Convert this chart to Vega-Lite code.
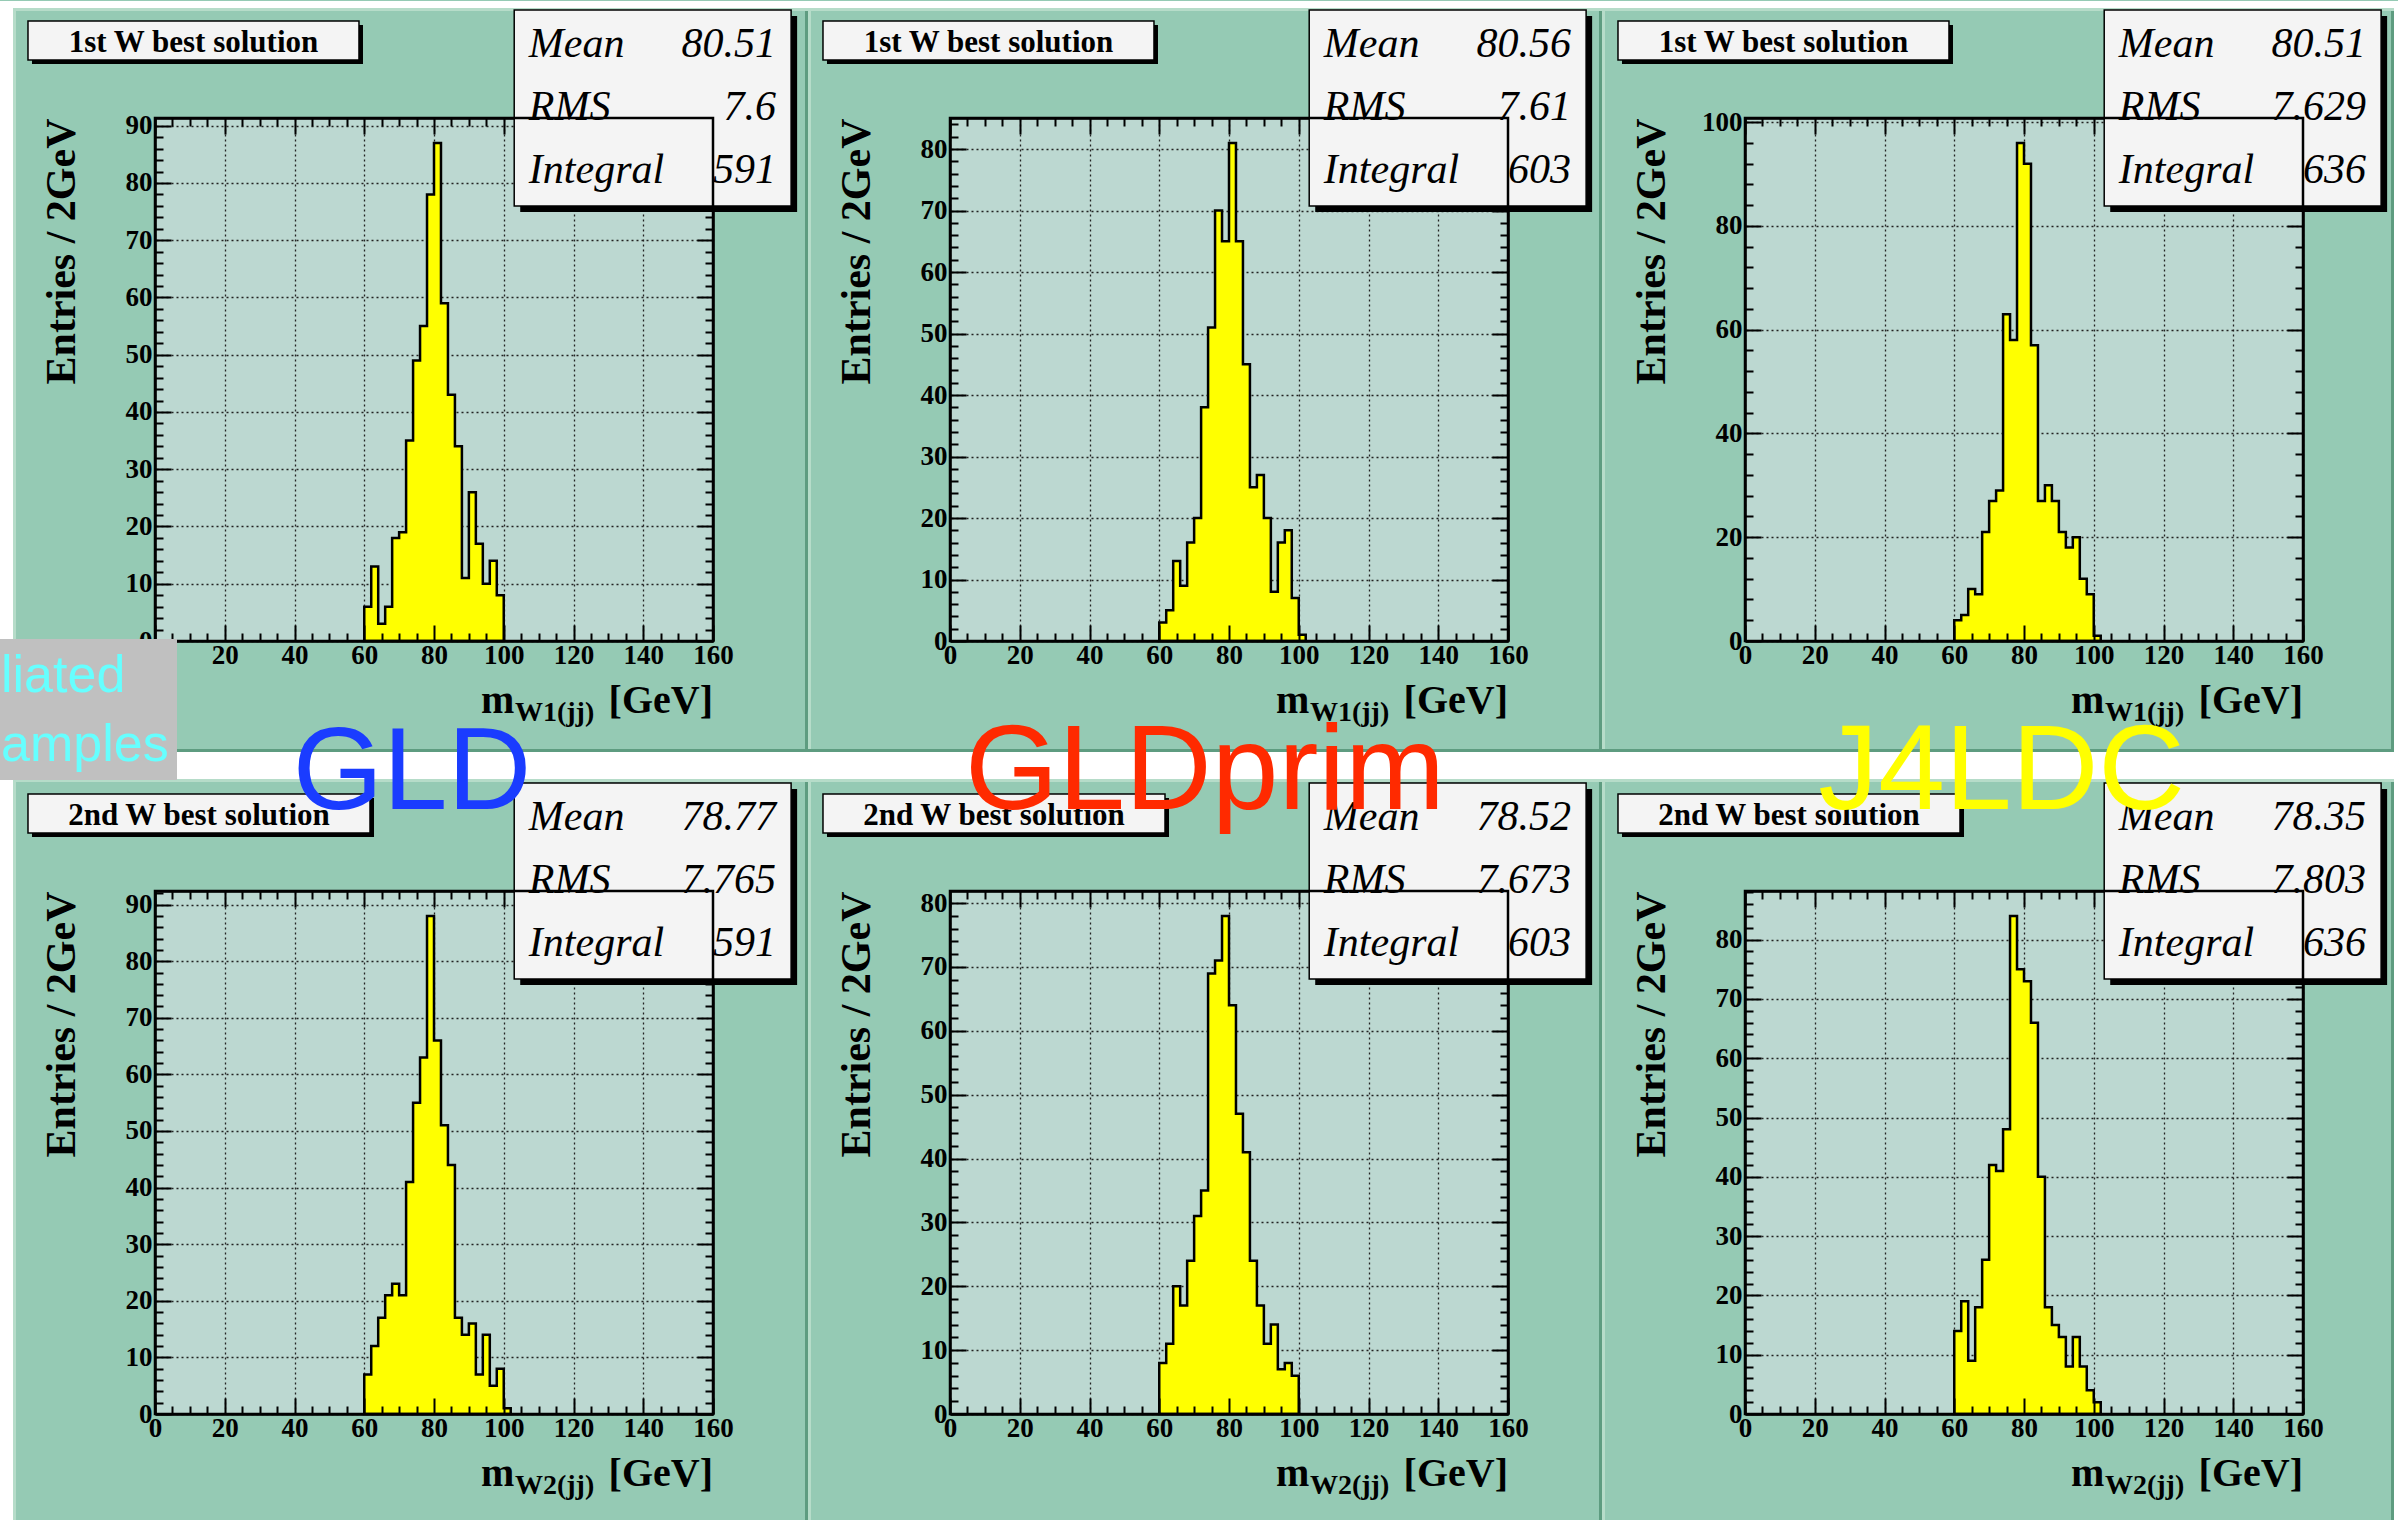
{
"$schema": "https://vega.github.io/schema/vega-lite/v6.json",
"background": "#95cab4",
"padding": 0,
"autosize": {"type": "pad"},
"columns": 3,
"spacing": {"row": 250, "column": 237},
"bounds": "flush",
"datasets": {
"one": [{}],
"p1": [{"lo":60,"n":6},{"lo":62,"n":13},{"lo":64,"n":3},{"lo":66,"n":6},{"lo":68,"n":18},{"lo":70,"n":19},{"lo":72,"n":35},{"lo":74,"n":49},{"lo":76,"n":55},{"lo":78,"n":78},{"lo":80,"n":87},{"lo":82,"n":59},{"lo":84,"n":43},{"lo":86,"n":34},{"lo":88,"n":11},{"lo":90,"n":26},{"lo":92,"n":17},{"lo":94,"n":10},{"lo":96,"n":14},{"lo":98,"n":8},{"lo":100,"n":0}],
"p2": [{"lo":60,"n":3},{"lo":62,"n":5},{"lo":64,"n":13},{"lo":66,"n":9},{"lo":68,"n":16},{"lo":70,"n":20},{"lo":72,"n":38},{"lo":74,"n":51},{"lo":76,"n":70},{"lo":78,"n":65},{"lo":80,"n":81},{"lo":82,"n":65},{"lo":84,"n":45},{"lo":86,"n":25},{"lo":88,"n":27},{"lo":90,"n":20},{"lo":92,"n":8},{"lo":94,"n":16},{"lo":96,"n":18},{"lo":98,"n":7},{"lo":100,"n":1},{"lo":102,"n":0}],
"p3": [{"lo":60,"n":4},{"lo":62,"n":5},{"lo":64,"n":10},{"lo":66,"n":9},{"lo":68,"n":21},{"lo":70,"n":27},{"lo":72,"n":29},{"lo":74,"n":63},{"lo":76,"n":58},{"lo":78,"n":96},{"lo":80,"n":92},{"lo":82,"n":57},{"lo":84,"n":27},{"lo":86,"n":30},{"lo":88,"n":27},{"lo":90,"n":21},{"lo":92,"n":18},{"lo":94,"n":20},{"lo":96,"n":12},{"lo":98,"n":9},{"lo":100,"n":1},{"lo":102,"n":0}],
"p4": [{"lo":60,"n":7},{"lo":62,"n":12},{"lo":64,"n":17},{"lo":66,"n":21},{"lo":68,"n":23},{"lo":70,"n":21},{"lo":72,"n":41},{"lo":74,"n":55},{"lo":76,"n":63},{"lo":78,"n":88},{"lo":80,"n":66},{"lo":82,"n":51},{"lo":84,"n":44},{"lo":86,"n":17},{"lo":88,"n":14},{"lo":90,"n":16},{"lo":92,"n":7},{"lo":94,"n":14},{"lo":96,"n":5},{"lo":98,"n":8},{"lo":100,"n":1},{"lo":102,"n":0}],
"p5": [{"lo":60,"n":8},{"lo":62,"n":11},{"lo":64,"n":20},{"lo":66,"n":17},{"lo":68,"n":24},{"lo":70,"n":31},{"lo":72,"n":35},{"lo":74,"n":69},{"lo":76,"n":71},{"lo":78,"n":78},{"lo":80,"n":64},{"lo":82,"n":47},{"lo":84,"n":41},{"lo":86,"n":24},{"lo":88,"n":17},{"lo":90,"n":11},{"lo":92,"n":14},{"lo":94,"n":7},{"lo":96,"n":8},{"lo":98,"n":6},{"lo":100,"n":0}],
"p6": [{"lo":60,"n":14},{"lo":62,"n":19},{"lo":64,"n":9},{"lo":66,"n":18},{"lo":68,"n":26},{"lo":70,"n":42},{"lo":72,"n":41},{"lo":74,"n":48},{"lo":76,"n":84},{"lo":78,"n":75},{"lo":80,"n":73},{"lo":82,"n":66},{"lo":84,"n":40},{"lo":86,"n":18},{"lo":88,"n":15},{"lo":90,"n":13},{"lo":92,"n":8},{"lo":94,"n":13},{"lo":96,"n":8},{"lo":98,"n":4},{"lo":100,"n":2},{"lo":102,"n":0}]
},
"concat": [
{
"width": 558, "height": 523,
"resolve": {"axis": {"x": "independent", "y": "independent"}},
"layer": [
{"data":{"name":"one"},"mark":{"type":"rect","fill":"#5e9c80"},"encoding":{"x":{"datum":186.380,"type":"quantitative","axis":null},"x2":{"datum":187.240},"y":{"datum":110.563,"type":"quantitative","axis":null},"y2":{"datum":-153.705}}},
{"data":{"name":"one"},"mark":{"type":"rect","fill":"#5e9c80"},"encoding":{"x":{"datum":414.050,"type":"quantitative","axis":null},"x2":{"datum":414.910},"y":{"datum":110.563,"type":"quantitative","axis":null},"y2":{"datum":-153.705}}},
{"data":{"name":"one"},"mark":{"type":"rect","fill":"#5e9c80"},"encoding":{"x":{"datum":641.147,"type":"quantitative","axis":null},"x2":{"datum":642.007},"y":{"datum":110.563,"type":"quantitative","axis":null},"y2":{"datum":-153.705}}},
{"data":{"name":"one"},"mark":{"type":"rect","fill":"#b6dcc9"},"encoding":{"x":{"datum":-40.717,"type":"quantitative","axis":null},"x2":{"datum":-39.857},"y":{"datum":110.563,"type":"quantitative","axis":null},"y2":{"datum":-153.705}}},
{"data":{"name":"one"},"mark":{"type":"rect","fill":"#b6dcc9"},"encoding":{"x":{"datum":187.240,"type":"quantitative","axis":null},"x2":{"datum":188.100},"y":{"datum":110.563,"type":"quantitative","axis":null},"y2":{"datum":-153.705}}},
{"data":{"name":"one"},"mark":{"type":"rect","fill":"#b6dcc9"},"encoding":{"x":{"datum":414.910,"type":"quantitative","axis":null},"x2":{"datum":415.771},"y":{"datum":110.563,"type":"quantitative","axis":null},"y2":{"datum":-153.705}}},
{"data":{"name":"one"},"mark":{"type":"rect","fill":"#b6dcc9"},"encoding":{"x":{"datum":-40.717,"type":"quantitative","axis":null},"x2":{"datum":642.007},"y":{"datum":110.563,"type":"quantitative","axis":null},"y2":{"datum":110.039}}},
{"data":{"name":"one"},"mark":{"type":"rect","fill":"#b6dcc9"},"encoding":{"x":{"datum":-40.717,"type":"quantitative","axis":null},"x2":{"datum":642.007},"y":{"datum":-24.104,"type":"quantitative","axis":null},"y2":{"datum":-24.628}}},
{"data":{"name":"one"},"mark":{"type":"rect","fill":"#5e9c80"},"encoding":{"x":{"datum":-40.717,"type":"quantitative","axis":null},"x2":{"datum":642.007},"y":{"datum":-18.864,"type":"quantitative","axis":null},"y2":{"datum":-19.388}}},
{"data":{"name":"one"},"mark":{"type":"rect","fill":"#ffffff"},"encoding":{"x":{"datum":-44.444,"type":"quantitative","axis":null},"x2":{"datum":643.154},"y":{"datum":111.786,"type":"quantitative","axis":null},"y2":{"datum":110.563}}},
{"data":{"name":"one"},"mark":{"type":"rect","fill":"#ffffff"},"encoding":{"x":{"datum":-44.444,"type":"quantitative","axis":null},"x2":{"datum":-40.717},"y":{"datum":111.786,"type":"quantitative","axis":null},"y2":{"datum":-153.705}}},
{"data":{"name":"one"},"mark":{"type":"rect","fill":"#ffffff"},"encoding":{"x":{"datum":642.007,"type":"quantitative","axis":null},"x2":{"datum":643.154},"y":{"datum":111.786,"type":"quantitative","axis":null},"y2":{"datum":-153.705}}},
{"data":{"name":"one"},"mark":{"type":"rect","fill":"#ffffff"},"encoding":{"x":{"datum":-44.444,"type":"quantitative","axis":null},"x2":{"datum":643.154},"y":{"datum":-19.388,"type":"quantitative","axis":null},"y2":{"datum":-24.104}}},
{"data":{"name":"p1"},"mark":{"type":"area","interpolate":"step-after","fill":"#ffff00","stroke":"#000000","strokeWidth":2.5},
 "encoding":{"x":{"field":"lo","type":"quantitative","scale":{"domain":[0,160],"nice":false,"zero":false},
  "axis":{"orient":"bottom","values":[0,5,10,15,20,25,30,35,40,45,50,55,60,65,70,75,80,85,90,95,100,105,110,115,120,125,130,135,140,145,150,155,160],"labelExpr":"datum.value % 20 === 0 ? datum.label : ''","tickSize":{"expr":"datum.value % 20 === 0 ? -16 : -8"},"labelPadding":17,"grid":false,"zindex":1,"title":null,"labelFlush":false,"labelOverlap":false}},
 "y":{"field":"n","type":"quantitative","stack":null,"scale":{"domain":[0,91.35],"nice":false,"zero":true},
  "axis":{"orient":"left","values":[0,2,4,6,8,10,12,14,16,18,20,22,24,26,28,30,32,34,36,38,40,42,44,46,48,50,52,54,56,58,60,62,64,66,68,70,72,74,76,78,80,82,84,86,88,90],"labelExpr":"datum.value % 10 === 0 ? datum.label : ''","tickSize":{"expr":"datum.value % 10 === 0 ? -16 : -8"},"labelPadding":19,"grid":false,"zindex":1,"title":"Entries / 2GeV","titleX":-94,"titleY":0,"titleAngle":270,"titleAlign":"right","titleBaseline":"middle","labelFlush":false,"labelOverlap":false}}}},
{"data":{"name":"one"},"mark":{"type":"rect","fill":"#000000"},"encoding":{"x":{"datum":-35.27,"type":"quantitative","axis":null},"x2":{"datum":59.64},"y":{"datum":107.594,"type":"quantitative","axis":null},"y2":{"datum":100.782}}},
{"data":{"name":"one"},"mark":{"type":"rect","fill":"#f4f4f4","stroke":"#000000","strokeWidth":1.5},"encoding":{"x":{"datum":-36.42,"type":"quantitative","axis":null},"x2":{"datum":58.49},"y":{"datum":108.293,"type":"quantitative","axis":null},"y2":{"datum":101.481}}},
{"data":{"name":"one"},"mark":{"type":"text","text":"1st W best solution","font":"Liberation Serif","fontWeight":"bold","fontSize":31,"align":"center","baseline":"alphabetic","fill":"#000000"},"encoding":{"x":{"datum":11.04,"type":"quantitative","axis":null},"y":{"datum":102.878,"type":"quantitative","axis":null}}},
{"data":{"name":"one"},"mark":{"type":"rect","fill":"#000000"},"encoding":{"x":{"datum":104.72,"type":"quantitative","axis":null},"x2":{"datum":184.12},"y":{"datum":109.166,"type":"quantitative","axis":null},"y2":{"datum":74.932}}},
{"data":{"name":"one"},"mark":{"type":"rect","fill":"#f4f4f4","stroke":"#000000","strokeWidth":1.5},"encoding":{"x":{"datum":103.0,"type":"quantitative","axis":null},"x2":{"datum":182.4},"y":{"datum":110.214,"type":"quantitative","axis":null},"y2":{"datum":75.980}}},
{"data":{"name":"one"},"mark":{"type":"text","text":["Mean","RMS","Integral"],"lineHeight":63,"font":"Liberation Serif","fontStyle":"italic","fontSize":42,"align":"left","baseline":"alphabetic","fill":"#000000"},"encoding":{"x":{"datum":107.2,"type":"quantitative","axis":null},"y":{"datum":102.004,"type":"quantitative","axis":null}}},
{"data":{"name":"one"},"mark":{"type":"text","text":["80.51","7.6","591"],"lineHeight":63,"font":"Liberation Serif","fontStyle":"italic","fontSize":42,"align":"right","baseline":"alphabetic","fill":"#000000"},"encoding":{"x":{"datum":178.1,"type":"quantitative","axis":null},"y":{"datum":102.004,"type":"quantitative","axis":null}}},
{"data":{"name":"one"},"mark":{"type":"text","text":"m","font":"Liberation Serif","fontWeight":"bold","fontSize":40,"align":"left","baseline":"alphabetic","fill":"#000000"},"encoding":{"x":{"datum":93.5,"type":"quantitative","axis":null},"y":{"datum":-12.576,"type":"quantitative","axis":null}}},
{"data":{"name":"one"},"mark":{"type":"text","text":"W1(jj)","font":"Liberation Serif","fontWeight":"bold","fontSize":28,"align":"left","baseline":"alphabetic","fill":"#000000"},"encoding":{"x":{"datum":103.2,"type":"quantitative","axis":null},"y":{"datum":-13.973,"type":"quantitative","axis":null}}},
{"data":{"name":"one"},"mark":{"type":"text","text":"[GeV]","font":"Liberation Serif","fontWeight":"bold","fontSize":40,"align":"right","baseline":"alphabetic","fill":"#000000"},"encoding":{"x":{"datum":160,"type":"quantitative","axis":null},"y":{"datum":-12.576,"type":"quantitative","axis":null}}},
{"data":{"name":"one"},"mark":{"type":"rect","filled":false,"stroke":"#000000","strokeWidth":2.5},
 "encoding":{"x":{"datum":0,"type":"quantitative","axis":{"orient":"top","values":[0,5,10,15,20,25,30,35,40,45,50,55,60,65,70,75,80,85,90,95,100,105,110,115,120,125,130,135,140,145,150,155,160],"labels":false,"tickSize":{"expr":"datum.value % 20 === 0 ? -16 : -8"},"grid":true,"gridOpacity":{"expr":"datum.value % 20 === 0 ? 1 : 0"},"zindex":0,"title":null}},"x2":{"datum":160},
 "y":{"datum":0,"type":"quantitative","axis":{"orient":"right","values":[0,2,4,6,8,10,12,14,16,18,20,22,24,26,28,30,32,34,36,38,40,42,44,46,48,50,52,54,56,58,60,62,64,66,68,70,72,74,76,78,80,82,84,86,88,90],"labels":false,"tickSize":{"expr":"datum.value % 10 === 0 ? -16 : -8"},"grid":true,"gridOpacity":{"expr":"datum.value % 10 === 0 ? 1 : 0"},"zindex":0,"title":null}},"y2":{"datum":91.35}}}
]
},
{
"width": 558, "height": 523,
"resolve": {"axis": {"x": "independent", "y": "independent"}},
"layer": [
{"data":{"name":"p2"},"mark":{"type":"area","interpolate":"step-after","fill":"#ffff00","stroke":"#000000","strokeWidth":2.5},
 "encoding":{"x":{"field":"lo","type":"quantitative","scale":{"domain":[0,160],"nice":false,"zero":false},
  "axis":{"orient":"bottom","values":[0,5,10,15,20,25,30,35,40,45,50,55,60,65,70,75,80,85,90,95,100,105,110,115,120,125,130,135,140,145,150,155,160],"labelExpr":"datum.value % 20 === 0 ? datum.label : ''","tickSize":{"expr":"datum.value % 20 === 0 ? -16 : -8"},"labelPadding":17,"grid":false,"zindex":1,"title":null,"labelFlush":false,"labelOverlap":false}},
 "y":{"field":"n","type":"quantitative","stack":null,"scale":{"domain":[0,85.05],"nice":false,"zero":true},
  "axis":{"orient":"left","values":[0,2,4,6,8,10,12,14,16,18,20,22,24,26,28,30,32,34,36,38,40,42,44,46,48,50,52,54,56,58,60,62,64,66,68,70,72,74,76,78,80,82,84],"labelExpr":"datum.value % 10 === 0 ? datum.label : ''","tickSize":{"expr":"datum.value % 10 === 0 ? -16 : -8"},"labelPadding":19,"grid":false,"zindex":1,"title":"Entries / 2GeV","titleX":-94,"titleY":0,"titleAngle":270,"titleAlign":"right","titleBaseline":"middle","labelFlush":false,"labelOverlap":false}}}},
{"data":{"name":"one"},"mark":{"type":"rect","fill":"#000000"},"encoding":{"x":{"datum":-35.27,"type":"quantitative","axis":null},"x2":{"datum":59.64},"y":{"datum":100.173,"type":"quantitative","axis":null},"y2":{"datum":93.831}}},
{"data":{"name":"one"},"mark":{"type":"rect","fill":"#f4f4f4","stroke":"#000000","strokeWidth":1.5},"encoding":{"x":{"datum":-36.42,"type":"quantitative","axis":null},"x2":{"datum":58.49},"y":{"datum":100.824,"type":"quantitative","axis":null},"y2":{"datum":94.482}}},
{"data":{"name":"one"},"mark":{"type":"text","text":"1st W best solution","font":"Liberation Serif","fontWeight":"bold","fontSize":31,"align":"center","baseline":"alphabetic","fill":"#000000"},"encoding":{"x":{"datum":11.04,"type":"quantitative","axis":null},"y":{"datum":95.783,"type":"quantitative","axis":null}}},
{"data":{"name":"one"},"mark":{"type":"rect","fill":"#000000"},"encoding":{"x":{"datum":104.72,"type":"quantitative","axis":null},"x2":{"datum":184.12},"y":{"datum":101.637,"type":"quantitative","axis":null},"y2":{"datum":69.764}}},
{"data":{"name":"one"},"mark":{"type":"rect","fill":"#f4f4f4","stroke":"#000000","strokeWidth":1.5},"encoding":{"x":{"datum":103.0,"type":"quantitative","axis":null},"x2":{"datum":182.4},"y":{"datum":102.613,"type":"quantitative","axis":null},"y2":{"datum":70.740}}},
{"data":{"name":"one"},"mark":{"type":"text","text":["Mean","RMS","Integral"],"lineHeight":63,"font":"Liberation Serif","fontStyle":"italic","fontSize":42,"align":"left","baseline":"alphabetic","fill":"#000000"},"encoding":{"x":{"datum":107.2,"type":"quantitative","axis":null},"y":{"datum":94.969,"type":"quantitative","axis":null}}},
{"data":{"name":"one"},"mark":{"type":"text","text":["80.56","7.61","603"],"lineHeight":63,"font":"Liberation Serif","fontStyle":"italic","fontSize":42,"align":"right","baseline":"alphabetic","fill":"#000000"},"encoding":{"x":{"datum":178.1,"type":"quantitative","axis":null},"y":{"datum":94.969,"type":"quantitative","axis":null}}},
{"data":{"name":"one"},"mark":{"type":"text","text":"m","font":"Liberation Serif","fontWeight":"bold","fontSize":40,"align":"left","baseline":"alphabetic","fill":"#000000"},"encoding":{"x":{"datum":93.5,"type":"quantitative","axis":null},"y":{"datum":-11.709,"type":"quantitative","axis":null}}},
{"data":{"name":"one"},"mark":{"type":"text","text":"W1(jj)","font":"Liberation Serif","fontWeight":"bold","fontSize":28,"align":"left","baseline":"alphabetic","fill":"#000000"},"encoding":{"x":{"datum":103.2,"type":"quantitative","axis":null},"y":{"datum":-13.009,"type":"quantitative","axis":null}}},
{"data":{"name":"one"},"mark":{"type":"text","text":"[GeV]","font":"Liberation Serif","fontWeight":"bold","fontSize":40,"align":"right","baseline":"alphabetic","fill":"#000000"},"encoding":{"x":{"datum":160,"type":"quantitative","axis":null},"y":{"datum":-11.709,"type":"quantitative","axis":null}}},
{"data":{"name":"one"},"mark":{"type":"rect","filled":false,"stroke":"#000000","strokeWidth":2.5},
 "encoding":{"x":{"datum":0,"type":"quantitative","axis":{"orient":"top","values":[0,5,10,15,20,25,30,35,40,45,50,55,60,65,70,75,80,85,90,95,100,105,110,115,120,125,130,135,140,145,150,155,160],"labels":false,"tickSize":{"expr":"datum.value % 20 === 0 ? -16 : -8"},"grid":true,"gridOpacity":{"expr":"datum.value % 20 === 0 ? 1 : 0"},"zindex":0,"title":null}},"x2":{"datum":160},
 "y":{"datum":0,"type":"quantitative","axis":{"orient":"right","values":[0,2,4,6,8,10,12,14,16,18,20,22,24,26,28,30,32,34,36,38,40,42,44,46,48,50,52,54,56,58,60,62,64,66,68,70,72,74,76,78,80,82,84],"labels":false,"tickSize":{"expr":"datum.value % 10 === 0 ? -16 : -8"},"grid":true,"gridOpacity":{"expr":"datum.value % 10 === 0 ? 1 : 0"},"zindex":0,"title":null}},"y2":{"datum":85.05}}}
]
},
{
"width": 558, "height": 523,
"resolve": {"axis": {"x": "independent", "y": "independent"}},
"layer": [
{"data":{"name":"p3"},"mark":{"type":"area","interpolate":"step-after","fill":"#ffff00","stroke":"#000000","strokeWidth":2.5},
 "encoding":{"x":{"field":"lo","type":"quantitative","scale":{"domain":[0,160],"nice":false,"zero":false},
  "axis":{"orient":"bottom","values":[0,5,10,15,20,25,30,35,40,45,50,55,60,65,70,75,80,85,90,95,100,105,110,115,120,125,130,135,140,145,150,155,160],"labelExpr":"datum.value % 20 === 0 ? datum.label : ''","tickSize":{"expr":"datum.value % 20 === 0 ? -16 : -8"},"labelPadding":17,"grid":false,"zindex":1,"title":null,"labelFlush":false,"labelOverlap":false}},
 "y":{"field":"n","type":"quantitative","stack":null,"scale":{"domain":[0,100.8],"nice":false,"zero":true},
  "axis":{"orient":"left","values":[0,4,8,12,16,20,24,28,32,36,40,44,48,52,56,60,64,68,72,76,80,84,88,92,96,100],"labelExpr":"datum.value % 20 === 0 ? datum.label : ''","tickSize":{"expr":"datum.value % 20 === 0 ? -16 : -8"},"labelPadding":19,"grid":false,"zindex":1,"title":"Entries / 2GeV","titleX":-94,"titleY":0,"titleAngle":270,"titleAlign":"right","titleBaseline":"middle","labelFlush":false,"labelOverlap":false}}}},
{"data":{"name":"one"},"mark":{"type":"rect","fill":"#000000"},"encoding":{"x":{"datum":-35.27,"type":"quantitative","axis":null},"x2":{"datum":59.64},"y":{"datum":118.724,"type":"quantitative","axis":null},"y2":{"datum":111.208}}},
{"data":{"name":"one"},"mark":{"type":"rect","fill":"#f4f4f4","stroke":"#000000","strokeWidth":1.5},"encoding":{"x":{"datum":-36.42,"type":"quantitative","axis":null},"x2":{"datum":58.49},"y":{"datum":119.495,"type":"quantitative","axis":null},"y2":{"datum":111.979}}},
{"data":{"name":"one"},"mark":{"type":"text","text":"1st W best solution","font":"Liberation Serif","fontWeight":"bold","fontSize":31,"align":"center","baseline":"alphabetic","fill":"#000000"},"encoding":{"x":{"datum":11.04,"type":"quantitative","axis":null},"y":{"datum":113.521,"type":"quantitative","axis":null}}},
{"data":{"name":"one"},"mark":{"type":"rect","fill":"#000000"},"encoding":{"x":{"datum":104.72,"type":"quantitative","axis":null},"x2":{"datum":184.12},"y":{"datum":120.459,"type":"quantitative","axis":null},"y2":{"datum":82.683}}},
{"data":{"name":"one"},"mark":{"type":"rect","fill":"#f4f4f4","stroke":"#000000","strokeWidth":1.5},"encoding":{"x":{"datum":103.0,"type":"quantitative","axis":null},"x2":{"datum":182.4},"y":{"datum":121.615,"type":"quantitative","axis":null},"y2":{"datum":83.839}}},
{"data":{"name":"one"},"mark":{"type":"text","text":["Mean","RMS","Integral"],"lineHeight":63,"font":"Liberation Serif","fontStyle":"italic","fontSize":42,"align":"left","baseline":"alphabetic","fill":"#000000"},"encoding":{"x":{"datum":107.2,"type":"quantitative","axis":null},"y":{"datum":112.556,"type":"quantitative","axis":null}}},
{"data":{"name":"one"},"mark":{"type":"text","text":["80.51","7.629","636"],"lineHeight":63,"font":"Liberation Serif","fontStyle":"italic","fontSize":42,"align":"right","baseline":"alphabetic","fill":"#000000"},"encoding":{"x":{"datum":178.1,"type":"quantitative","axis":null},"y":{"datum":112.556,"type":"quantitative","axis":null}}},
{"data":{"name":"one"},"mark":{"type":"text","text":"m","font":"Liberation Serif","fontWeight":"bold","fontSize":40,"align":"left","baseline":"alphabetic","fill":"#000000"},"encoding":{"x":{"datum":93.5,"type":"quantitative","axis":null},"y":{"datum":-13.877,"type":"quantitative","axis":null}}},
{"data":{"name":"one"},"mark":{"type":"text","text":"W1(jj)","font":"Liberation Serif","fontWeight":"bold","fontSize":28,"align":"left","baseline":"alphabetic","fill":"#000000"},"encoding":{"x":{"datum":103.2,"type":"quantitative","axis":null},"y":{"datum":-15.418,"type":"quantitative","axis":null}}},
{"data":{"name":"one"},"mark":{"type":"text","text":"[GeV]","font":"Liberation Serif","fontWeight":"bold","fontSize":40,"align":"right","baseline":"alphabetic","fill":"#000000"},"encoding":{"x":{"datum":160,"type":"quantitative","axis":null},"y":{"datum":-13.877,"type":"quantitative","axis":null}}},
{"data":{"name":"one"},"mark":{"type":"rect","filled":false,"stroke":"#000000","strokeWidth":2.5},
 "encoding":{"x":{"datum":0,"type":"quantitative","axis":{"orient":"top","values":[0,5,10,15,20,25,30,35,40,45,50,55,60,65,70,75,80,85,90,95,100,105,110,115,120,125,130,135,140,145,150,155,160],"labels":false,"tickSize":{"expr":"datum.value % 20 === 0 ? -16 : -8"},"grid":true,"gridOpacity":{"expr":"datum.value % 20 === 0 ? 1 : 0"},"zindex":0,"title":null}},"x2":{"datum":160},
 "y":{"datum":0,"type":"quantitative","axis":{"orient":"right","values":[0,4,8,12,16,20,24,28,32,36,40,44,48,52,56,60,64,68,72,76,80,84,88,92,96,100],"labels":false,"tickSize":{"expr":"datum.value % 20 === 0 ? -16 : -8"},"grid":true,"gridOpacity":{"expr":"datum.value % 20 === 0 ? 1 : 0"},"zindex":0,"title":null}},"y2":{"datum":100.8}}}
]
},
{
"width": 558, "height": 523,
"resolve": {"axis": {"x": "independent", "y": "independent"}},
"layer": [
{"data":{"name":"p4"},"mark":{"type":"area","interpolate":"step-after","fill":"#ffff00","stroke":"#000000","strokeWidth":2.5},
 "encoding":{"x":{"field":"lo","type":"quantitative","scale":{"domain":[0,160],"nice":false,"zero":false},
  "axis":{"orient":"bottom","values":[0,5,10,15,20,25,30,35,40,45,50,55,60,65,70,75,80,85,90,95,100,105,110,115,120,125,130,135,140,145,150,155,160],"labelExpr":"datum.value % 20 === 0 ? datum.label : ''","tickSize":{"expr":"datum.value % 20 === 0 ? -16 : -8"},"labelPadding":17,"grid":false,"zindex":1,"title":null,"labelFlush":false,"labelOverlap":false}},
 "y":{"field":"n","type":"quantitative","stack":null,"scale":{"domain":[0,92.4],"nice":false,"zero":true},
  "axis":{"orient":"left","values":[0,2,4,6,8,10,12,14,16,18,20,22,24,26,28,30,32,34,36,38,40,42,44,46,48,50,52,54,56,58,60,62,64,66,68,70,72,74,76,78,80,82,84,86,88,90,92],"labelExpr":"datum.value % 10 === 0 ? datum.label : ''","tickSize":{"expr":"datum.value % 10 === 0 ? -16 : -8"},"labelPadding":19,"grid":false,"zindex":1,"title":"Entries / 2GeV","titleX":-94,"titleY":0,"titleAngle":270,"titleAlign":"right","titleBaseline":"middle","labelFlush":false,"labelOverlap":false}}}},
{"data":{"name":"one"},"mark":{"type":"rect","fill":"#000000"},"encoding":{"x":{"datum":-35.27,"type":"quantitative","axis":null},"x2":{"datum":62.80},"y":{"datum":108.831,"type":"quantitative","axis":null},"y2":{"datum":101.940}}},
{"data":{"name":"one"},"mark":{"type":"rect","fill":"#f4f4f4","stroke":"#000000","strokeWidth":1.5},"encoding":{"x":{"datum":-36.42,"type":"quantitative","axis":null},"x2":{"datum":61.65},"y":{"datum":109.537,"type":"quantitative","axis":null},"y2":{"datum":102.647}}},
{"data":{"name":"one"},"mark":{"type":"text","text":"2nd W best solution","font":"Liberation Serif","fontWeight":"bold","fontSize":31,"align":"center","baseline":"alphabetic","fill":"#000000"},"encoding":{"x":{"datum":12.6,"type":"quantitative","axis":null},"y":{"datum":104.061,"type":"quantitative","axis":null}}},
{"data":{"name":"one"},"mark":{"type":"rect","fill":"#000000"},"encoding":{"x":{"datum":104.72,"type":"quantitative","axis":null},"x2":{"datum":184.12},"y":{"datum":110.421,"type":"quantitative","axis":null},"y2":{"datum":75.793}}},
{"data":{"name":"one"},"mark":{"type":"rect","fill":"#f4f4f4","stroke":"#000000","strokeWidth":1.5},"encoding":{"x":{"datum":103.0,"type":"quantitative","axis":null},"x2":{"datum":182.4},"y":{"datum":111.481,"type":"quantitative","axis":null},"y2":{"datum":76.853}}},
{"data":{"name":"one"},"mark":{"type":"text","text":["Mean","RMS","Integral"],"lineHeight":63,"font":"Liberation Serif","fontStyle":"italic","fontSize":42,"align":"left","baseline":"alphabetic","fill":"#000000"},"encoding":{"x":{"datum":107.2,"type":"quantitative","axis":null},"y":{"datum":103.177,"type":"quantitative","axis":null}}},
{"data":{"name":"one"},"mark":{"type":"text","text":["78.77","7.765","591"],"lineHeight":63,"font":"Liberation Serif","fontStyle":"italic","fontSize":42,"align":"right","baseline":"alphabetic","fill":"#000000"},"encoding":{"x":{"datum":178.1,"type":"quantitative","axis":null},"y":{"datum":103.177,"type":"quantitative","axis":null}}},
{"data":{"name":"one"},"mark":{"type":"text","text":"m","font":"Liberation Serif","fontWeight":"bold","fontSize":40,"align":"left","baseline":"alphabetic","fill":"#000000"},"encoding":{"x":{"datum":93.5,"type":"quantitative","axis":null},"y":{"datum":-12.721,"type":"quantitative","axis":null}}},
{"data":{"name":"one"},"mark":{"type":"text","text":"W2(jj)","font":"Liberation Serif","fontWeight":"bold","fontSize":28,"align":"left","baseline":"alphabetic","fill":"#000000"},"encoding":{"x":{"datum":103.2,"type":"quantitative","axis":null},"y":{"datum":-14.134,"type":"quantitative","axis":null}}},
{"data":{"name":"one"},"mark":{"type":"text","text":"[GeV]","font":"Liberation Serif","fontWeight":"bold","fontSize":40,"align":"right","baseline":"alphabetic","fill":"#000000"},"encoding":{"x":{"datum":160,"type":"quantitative","axis":null},"y":{"datum":-12.721,"type":"quantitative","axis":null}}},
{"data":{"name":"one"},"mark":{"type":"rect","filled":false,"stroke":"#000000","strokeWidth":2.5},
 "encoding":{"x":{"datum":0,"type":"quantitative","axis":{"orient":"top","values":[0,5,10,15,20,25,30,35,40,45,50,55,60,65,70,75,80,85,90,95,100,105,110,115,120,125,130,135,140,145,150,155,160],"labels":false,"tickSize":{"expr":"datum.value % 20 === 0 ? -16 : -8"},"grid":true,"gridOpacity":{"expr":"datum.value % 20 === 0 ? 1 : 0"},"zindex":0,"title":null}},"x2":{"datum":160},
 "y":{"datum":0,"type":"quantitative","axis":{"orient":"right","values":[0,2,4,6,8,10,12,14,16,18,20,22,24,26,28,30,32,34,36,38,40,42,44,46,48,50,52,54,56,58,60,62,64,66,68,70,72,74,76,78,80,82,84,86,88,90,92],"labels":false,"tickSize":{"expr":"datum.value % 10 === 0 ? -16 : -8"},"grid":true,"gridOpacity":{"expr":"datum.value % 10 === 0 ? 1 : 0"},"zindex":0,"title":null}},"y2":{"datum":92.4}}},
{"data":{"name":"one"},"mark":{"type":"rect","fill":"#c0c0c0"},"encoding":{"x":{"datum":-44.444,"type":"quantitative","axis":null},"x2":{"datum":6.308},"y":{"datum":136.92,"type":"quantitative","axis":null},"y2":{"datum":112.01}}},
{"data":{"name":"one"},"mark":{"type":"text","text":["liated","amples"],"lineHeight":69,"font":"Liberation Sans","fontSize":52,"align":"left","baseline":"alphabetic","fill":"#66ffff"},"encoding":{"x":{"datum":-44.158,"type":"quantitative","axis":null},"y":{"datum":127.56,"type":"quantitative","axis":null}}},
{"data":{"name":"one"},"mark":{"type":"text","text":"GLD","font":"Liberation Sans","fontSize":116,"align":"left","baseline":"alphabetic","fill":"#1a3cff"},"encoding":{"x":{"datum":39.5,"type":"quantitative","axis":null},"y":{"datum":106.89,"type":"quantitative","axis":null}}}
]
},
{
"width": 558, "height": 523,
"resolve": {"axis": {"x": "independent", "y": "independent"}},
"layer": [
{"data":{"name":"p5"},"mark":{"type":"area","interpolate":"step-after","fill":"#ffff00","stroke":"#000000","strokeWidth":2.5},
 "encoding":{"x":{"field":"lo","type":"quantitative","scale":{"domain":[0,160],"nice":false,"zero":false},
  "axis":{"orient":"bottom","values":[0,5,10,15,20,25,30,35,40,45,50,55,60,65,70,75,80,85,90,95,100,105,110,115,120,125,130,135,140,145,150,155,160],"labelExpr":"datum.value % 20 === 0 ? datum.label : ''","tickSize":{"expr":"datum.value % 20 === 0 ? -16 : -8"},"labelPadding":17,"grid":false,"zindex":1,"title":null,"labelFlush":false,"labelOverlap":false}},
 "y":{"field":"n","type":"quantitative","stack":null,"scale":{"domain":[0,81.9],"nice":false,"zero":true},
  "axis":{"orient":"left","values":[0,2,4,6,8,10,12,14,16,18,20,22,24,26,28,30,32,34,36,38,40,42,44,46,48,50,52,54,56,58,60,62,64,66,68,70,72,74,76,78,80],"labelExpr":"datum.value % 10 === 0 ? datum.label : ''","tickSize":{"expr":"datum.value % 10 === 0 ? -16 : -8"},"labelPadding":19,"grid":false,"zindex":1,"title":"Entries / 2GeV","titleX":-94,"titleY":0,"titleAngle":270,"titleAlign":"right","titleBaseline":"middle","labelFlush":false,"labelOverlap":false}}}},
{"data":{"name":"one"},"mark":{"type":"rect","fill":"#000000"},"encoding":{"x":{"datum":-35.27,"type":"quantitative","axis":null},"x2":{"datum":62.80},"y":{"datum":96.463,"type":"quantitative","axis":null},"y2":{"datum":90.356}}},
{"data":{"name":"one"},"mark":{"type":"rect","fill":"#f4f4f4","stroke":"#000000","strokeWidth":1.5},"encoding":{"x":{"datum":-36.42,"type":"quantitative","axis":null},"x2":{"datum":61.65},"y":{"datum":97.090,"type":"quantitative","axis":null},"y2":{"datum":90.983}}},
{"data":{"name":"one"},"mark":{"type":"text","text":"2nd W best solution","font":"Liberation Serif","fontWeight":"bold","fontSize":31,"align":"center","baseline":"alphabetic","fill":"#000000"},"encoding":{"x":{"datum":12.6,"type":"quantitative","axis":null},"y":{"datum":92.236,"type":"quantitative","axis":null}}},
{"data":{"name":"one"},"mark":{"type":"rect","fill":"#000000"},"encoding":{"x":{"datum":104.72,"type":"quantitative","axis":null},"x2":{"datum":184.12},"y":{"datum":97.873,"type":"quantitative","axis":null},"y2":{"datum":67.180}}},
{"data":{"name":"one"},"mark":{"type":"rect","fill":"#f4f4f4","stroke":"#000000","strokeWidth":1.5},"encoding":{"x":{"datum":103.0,"type":"quantitative","axis":null},"x2":{"datum":182.4},"y":{"datum":98.812,"type":"quantitative","axis":null},"y2":{"datum":68.120}}},
{"data":{"name":"one"},"mark":{"type":"text","text":["Mean","RMS","Integral"],"lineHeight":63,"font":"Liberation Serif","fontStyle":"italic","fontSize":42,"align":"left","baseline":"alphabetic","fill":"#000000"},"encoding":{"x":{"datum":107.2,"type":"quantitative","axis":null},"y":{"datum":91.452,"type":"quantitative","axis":null}}},
{"data":{"name":"one"},"mark":{"type":"text","text":["78.52","7.673","603"],"lineHeight":63,"font":"Liberation Serif","fontStyle":"italic","fontSize":42,"align":"right","baseline":"alphabetic","fill":"#000000"},"encoding":{"x":{"datum":178.1,"type":"quantitative","axis":null},"y":{"datum":91.452,"type":"quantitative","axis":null}}},
{"data":{"name":"one"},"mark":{"type":"text","text":"m","font":"Liberation Serif","fontWeight":"bold","fontSize":40,"align":"left","baseline":"alphabetic","fill":"#000000"},"encoding":{"x":{"datum":93.5,"type":"quantitative","axis":null},"y":{"datum":-11.275,"type":"quantitative","axis":null}}},
{"data":{"name":"one"},"mark":{"type":"text","text":"W2(jj)","font":"Liberation Serif","fontWeight":"bold","fontSize":28,"align":"left","baseline":"alphabetic","fill":"#000000"},"encoding":{"x":{"datum":103.2,"type":"quantitative","axis":null},"y":{"datum":-12.527,"type":"quantitative","axis":null}}},
{"data":{"name":"one"},"mark":{"type":"text","text":"[GeV]","font":"Liberation Serif","fontWeight":"bold","fontSize":40,"align":"right","baseline":"alphabetic","fill":"#000000"},"encoding":{"x":{"datum":160,"type":"quantitative","axis":null},"y":{"datum":-11.275,"type":"quantitative","axis":null}}},
{"data":{"name":"one"},"mark":{"type":"rect","filled":false,"stroke":"#000000","strokeWidth":2.5},
 "encoding":{"x":{"datum":0,"type":"quantitative","axis":{"orient":"top","values":[0,5,10,15,20,25,30,35,40,45,50,55,60,65,70,75,80,85,90,95,100,105,110,115,120,125,130,135,140,145,150,155,160],"labels":false,"tickSize":{"expr":"datum.value % 20 === 0 ? -16 : -8"},"grid":true,"gridOpacity":{"expr":"datum.value % 20 === 0 ? 1 : 0"},"zindex":0,"title":null}},"x2":{"datum":160},
 "y":{"datum":0,"type":"quantitative","axis":{"orient":"right","values":[0,2,4,6,8,10,12,14,16,18,20,22,24,26,28,30,32,34,36,38,40,42,44,46,48,50,52,54,56,58,60,62,64,66,68,70,72,74,76,78,80],"labels":false,"tickSize":{"expr":"datum.value % 10 === 0 ? -16 : -8"},"grid":true,"gridOpacity":{"expr":"datum.value % 10 === 0 ? 1 : 0"},"zindex":0,"title":null}},"y2":{"datum":81.9}}},
{"data":{"name":"one"},"mark":{"type":"text","text":"GLDprim","font":"Liberation Sans","fontSize":120,"align":"left","baseline":"alphabetic","fill":"#ff2a00"},"encoding":{"x":{"datum":4.3,"type":"quantitative","axis":null},"y":{"datum":94.74,"type":"quantitative","axis":null}}}
]
},
{
"width": 558, "height": 523,
"resolve": {"axis": {"x": "independent", "y": "independent"}},
"layer": [
{"data":{"name":"p6"},"mark":{"type":"area","interpolate":"step-after","fill":"#ffff00","stroke":"#000000","strokeWidth":2.5},
 "encoding":{"x":{"field":"lo","type":"quantitative","scale":{"domain":[0,160],"nice":false,"zero":false},
  "axis":{"orient":"bottom","values":[0,5,10,15,20,25,30,35,40,45,50,55,60,65,70,75,80,85,90,95,100,105,110,115,120,125,130,135,140,145,150,155,160],"labelExpr":"datum.value % 20 === 0 ? datum.label : ''","tickSize":{"expr":"datum.value % 20 === 0 ? -16 : -8"},"labelPadding":17,"grid":false,"zindex":1,"title":null,"labelFlush":false,"labelOverlap":false}},
 "y":{"field":"n","type":"quantitative","stack":null,"scale":{"domain":[0,88.2],"nice":false,"zero":true},
  "axis":{"orient":"left","values":[0,2,4,6,8,10,12,14,16,18,20,22,24,26,28,30,32,34,36,38,40,42,44,46,48,50,52,54,56,58,60,62,64,66,68,70,72,74,76,78,80,82,84,86,88],"labelExpr":"datum.value % 10 === 0 ? datum.label : ''","tickSize":{"expr":"datum.value % 10 === 0 ? -16 : -8"},"labelPadding":19,"grid":false,"zindex":1,"title":"Entries / 2GeV","titleX":-94,"titleY":0,"titleAngle":270,"titleAlign":"right","titleBaseline":"middle","labelFlush":false,"labelOverlap":false}}}},
{"data":{"name":"one"},"mark":{"type":"rect","fill":"#000000"},"encoding":{"x":{"datum":-35.27,"type":"quantitative","axis":null},"x2":{"datum":62.80},"y":{"datum":103.884,"type":"quantitative","axis":null},"y2":{"datum":97.307}}},
{"data":{"name":"one"},"mark":{"type":"rect","fill":"#f4f4f4","stroke":"#000000","strokeWidth":1.5},"encoding":{"x":{"datum":-36.42,"type":"quantitative","axis":null},"x2":{"datum":61.65},"y":{"datum":104.558,"type":"quantitative","axis":null},"y2":{"datum":97.981}}},
{"data":{"name":"one"},"mark":{"type":"text","text":"2nd W best solution","font":"Liberation Serif","fontWeight":"bold","fontSize":31,"align":"center","baseline":"alphabetic","fill":"#000000"},"encoding":{"x":{"datum":12.6,"type":"quantitative","axis":null},"y":{"datum":99.331,"type":"quantitative","axis":null}}},
{"data":{"name":"one"},"mark":{"type":"rect","fill":"#000000"},"encoding":{"x":{"datum":104.72,"type":"quantitative","axis":null},"x2":{"datum":184.12},"y":{"datum":105.402,"type":"quantitative","axis":null},"y2":{"datum":72.348}}},
{"data":{"name":"one"},"mark":{"type":"rect","fill":"#f4f4f4","stroke":"#000000","strokeWidth":1.5},"encoding":{"x":{"datum":103.0,"type":"quantitative","axis":null},"x2":{"datum":182.4},"y":{"datum":106.413,"type":"quantitative","axis":null},"y2":{"datum":73.359}}},
{"data":{"name":"one"},"mark":{"type":"text","text":["Mean","RMS","Integral"],"lineHeight":63,"font":"Liberation Serif","fontStyle":"italic","fontSize":42,"align":"left","baseline":"alphabetic","fill":"#000000"},"encoding":{"x":{"datum":107.2,"type":"quantitative","axis":null},"y":{"datum":98.487,"type":"quantitative","axis":null}}},
{"data":{"name":"one"},"mark":{"type":"text","text":["78.35","7.803","636"],"lineHeight":63,"font":"Liberation Serif","fontStyle":"italic","fontSize":42,"align":"right","baseline":"alphabetic","fill":"#000000"},"encoding":{"x":{"datum":178.1,"type":"quantitative","axis":null},"y":{"datum":98.487,"type":"quantitative","axis":null}}},
{"data":{"name":"one"},"mark":{"type":"text","text":"m","font":"Liberation Serif","fontWeight":"bold","fontSize":40,"align":"left","baseline":"alphabetic","fill":"#000000"},"encoding":{"x":{"datum":93.5,"type":"quantitative","axis":null},"y":{"datum":-12.143,"type":"quantitative","axis":null}}},
{"data":{"name":"one"},"mark":{"type":"text","text":"W2(jj)","font":"Liberation Serif","fontWeight":"bold","fontSize":28,"align":"left","baseline":"alphabetic","fill":"#000000"},"encoding":{"x":{"datum":103.2,"type":"quantitative","axis":null},"y":{"datum":-13.491,"type":"quantitative","axis":null}}},
{"data":{"name":"one"},"mark":{"type":"text","text":"[GeV]","font":"Liberation Serif","fontWeight":"bold","fontSize":40,"align":"right","baseline":"alphabetic","fill":"#000000"},"encoding":{"x":{"datum":160,"type":"quantitative","axis":null},"y":{"datum":-12.143,"type":"quantitative","axis":null}}},
{"data":{"name":"one"},"mark":{"type":"rect","filled":false,"stroke":"#000000","strokeWidth":2.5},
 "encoding":{"x":{"datum":0,"type":"quantitative","axis":{"orient":"top","values":[0,5,10,15,20,25,30,35,40,45,50,55,60,65,70,75,80,85,90,95,100,105,110,115,120,125,130,135,140,145,150,155,160],"labels":false,"tickSize":{"expr":"datum.value % 20 === 0 ? -16 : -8"},"grid":true,"gridOpacity":{"expr":"datum.value % 20 === 0 ? 1 : 0"},"zindex":0,"title":null}},"x2":{"datum":160},
 "y":{"datum":0,"type":"quantitative","axis":{"orient":"right","values":[0,2,4,6,8,10,12,14,16,18,20,22,24,26,28,30,32,34,36,38,40,42,44,46,48,50,52,54,56,58,60,62,64,66,68,70,72,74,76,78,80,82,84,86,88],"labels":false,"tickSize":{"expr":"datum.value % 10 === 0 ? -16 : -8"},"grid":true,"gridOpacity":{"expr":"datum.value % 10 === 0 ? 1 : 0"},"zindex":0,"title":null}},"y2":{"datum":88.2}}},
{"data":{"name":"one"},"mark":{"type":"text","text":"J4LDC","font":"Liberation Sans","fontSize":120,"align":"left","baseline":"alphabetic","fill":"#ffff00"},"encoding":{"x":{"datum":21.0,"type":"quantitative","axis":null},"y":{"datum":102.03,"type":"quantitative","axis":null}}}
]
}
],
"config": {
"view": {"fill": "#bcd8d1", "stroke": null},
"axis": {"labelFont": "Liberation Serif", "labelFontWeight": "bold", "labelFontSize": 27, "labelColor": "#000000", "tickColor": "#000000", "tickWidth": 2, "domainColor": "#000000", "domainWidth": 2.5, "gridColor": "#222222", "gridDash": [2, 3], "gridWidth": 1.3, "titleFont": "Liberation Serif", "titleFontWeight": "bold", "titleFontSize": 42, "titleColor": "#000000"}
}
}
